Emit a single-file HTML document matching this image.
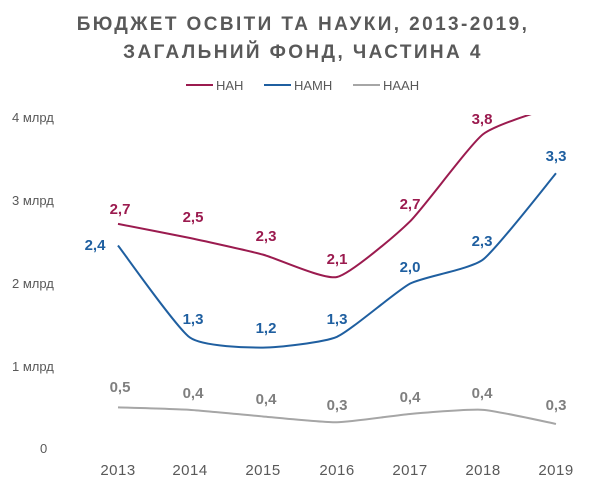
<!DOCTYPE html>
<html><head><meta charset="utf-8"><style>
body{margin:0;background:#fff;width:607px;height:487px;overflow:hidden}
svg text{font-family:"Liberation Sans",sans-serif}
</style></head><body>
<svg id="s" width="607" height="487" xmlns="http://www.w3.org/2000/svg">
<text x="303" y="30" text-anchor="middle" font-size="19" font-weight="bold" fill="#595959" letter-spacing="2.4">БЮДЖЕТ ОСВІТИ ТА НАУКИ, 2013-2019,</text>
<text x="303" y="58" text-anchor="middle" font-size="19" font-weight="bold" fill="#595959" letter-spacing="2.4">ЗАГАЛЬНИЙ ФОНД, ЧАСТИНА 4</text>
<line x1="186" y1="85" x2="213" y2="85" stroke="#9b1b4f" stroke-width="2"/>
<text x="216" y="90" font-size="13" fill="#595959">НАН</text>
<line x1="264" y1="85" x2="291" y2="85" stroke="#1f5fa0" stroke-width="2"/>
<text x="294" y="90" font-size="13" fill="#595959">НАМН</text>
<line x1="353" y1="85" x2="380" y2="85" stroke="#a6a6a6" stroke-width="2"/>
<text x="383" y="90" font-size="13" fill="#595959">НААН</text>
<g font-size="13" fill="#595959">
<text x="12" y="122">4 млрд</text><text x="12" y="205">3 млрд</text><text x="12" y="288">2 млрд</text><text x="12" y="371">1 млрд</text><text x="40" y="453">0</text>
</g>
<g font-size="15" fill="#595959" text-anchor="middle" letter-spacing="0.5">
<text x="118" y="475">2013</text><text x="190" y="475">2014</text><text x="263" y="475">2015</text><text x="337" y="475">2016</text><text x="410" y="475">2017</text><text x="483" y="475">2018</text><text x="556" y="475">2019</text>
</g>
<clipPath id="c"><rect x="0" y="115" width="607" height="380"/></clipPath>
<g id="lines" clip-path="url(#c)" fill="none" stroke-width="2"></g>
<g font-size="15" font-weight="bold" text-anchor="middle">
<g fill="#9b1b4f"><text x="120" y="214">2,7</text><text x="193" y="222">2,5</text><text x="266" y="241">2,3</text><text x="337" y="264">2,1</text><text x="410" y="209">2,7</text><text x="482" y="124">3,8</text></g>
<g fill="#1f5fa0"><text x="95" y="250">2,4</text><text x="193" y="324">1,3</text><text x="266" y="333">1,2</text><text x="337" y="324">1,3</text><text x="410" y="272">2,0</text><text x="482" y="246">2,3</text><text x="556" y="161">3,3</text></g>
<g fill="#7f7f7f"><text x="120" y="392">0,5</text><text x="193" y="398">0,4</text><text x="266" y="404">0,4</text><text x="337" y="410">0,3</text><text x="410" y="402">0,4</text><text x="482" y="398">0,4</text><text x="556" y="410">0,3</text></g>
</g>
</svg>
<script>
var xs=[118,190,263,337,410,483,556];
function y(v){return 448-v*83;}
var series=[["#9b1b4f",[2.7,2.53,2.33,2.06,2.73,3.78,4.12]],["#1f5fa0",[2.44,1.33,1.21,1.34,1.98,2.27,3.31]],["#a6a6a6",[0.49,0.46,0.38,0.31,0.41,0.46,0.29]]];
var g=document.getElementById("lines");
series.forEach(function(s){
 var p=xs.map(function(x,i){return [x,y(s[1][i])];});
 var d="M"+p[0][0]+","+p[0][1];
 for(var i=0;i<p.length-1;i++){
  var p0=p[i-1]||p[i],p1=p[i],p2=p[i+1],p3=p[i+2]||p2,t=11;
  d+=" C"+(p1[0]+(p2[0]-p0[0])/t)+","+(p1[1]+(p2[1]-p0[1])/t)+" "+(p2[0]-(p3[0]-p1[0])/t)+","+(p2[1]-(p3[1]-p1[1])/t)+" "+p2[0]+","+p2[1];
 }
 var e=document.createElementNS("http://www.w3.org/2000/svg","path");
 e.setAttribute("d",d);e.setAttribute("stroke",s[0]);g.appendChild(e);
});
</script>
</body></html>
